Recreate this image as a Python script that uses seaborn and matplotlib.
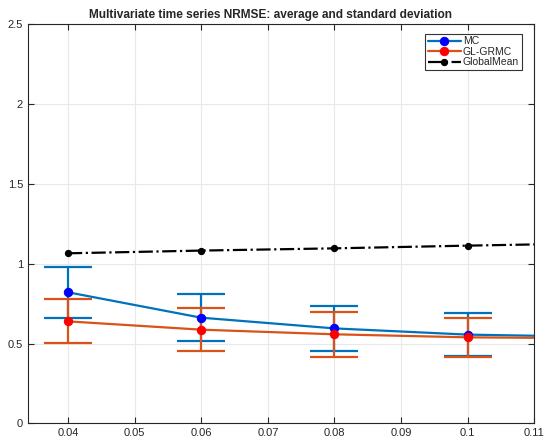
import matplotlib.pyplot as plt
import numpy as np
import pandas as pd
import seaborn as sns

# sampling rates (last point lies just beyond the axis limit)
rates = [0.04, 0.06, 0.08, 0.10, 0.12]
mc_mean = [0.821, 0.662, 0.595, 0.556, 0.542]
mc_std = [0.160, 0.148, 0.142, 0.133, 0.130]
gl_mean = [0.639, 0.587, 0.558, 0.539, 0.533]
gl_std = [0.137, 0.136, 0.141, 0.120, 0.120]
gm_mean = [1.065, 1.082, 1.096, 1.113, 1.128]

xticks = [0.04, 0.05, 0.06, 0.07, 0.08, 0.09, 0.1, 0.11]
xticklabels = ['0.04', '0.05', '0.06', '0.07', '0.08', '0.09', '0.1', '0.11']
yticks = [0, 0.5, 1, 1.5, 2, 2.5]
yticklabels = ['0', '0.5', '1', '1.5', '2', '2.5']

sns.set_style('white')
plt.rcParams['font.family'] = ['Liberation Sans', 'DejaVu Sans']

fig = plt.figure(figsize=(5.45, 4.37), dpi=100)
ax = fig.add_axes([0.0514, 0.031, 0.929, 0.914])

df = pd.DataFrame({'rate': rates, 'MC': mc_mean, 'GL-GRMC': gl_mean, 'GlobalMean': gm_mean})

blue = '#0072BD'
orange = '#D95319'

# error bars
ax.errorbar(rates, mc_mean, yerr=mc_std, fmt='none', ecolor=blue, elinewidth=1.6,
            capsize=17, capthick=1.6, zorder=2)
ax.errorbar(rates, gl_mean, yerr=gl_std, fmt='none', ecolor=orange, elinewidth=1.6,
            capsize=17, capthick=1.6, zorder=3)

sns.lineplot(data=df, x='rate', y='MC', ax=ax, color=blue, linewidth=1.6, marker='o',
             markersize=6, markerfacecolor='#0000FF', markeredgecolor='#0000FF',
             label='MC', zorder=4)
sns.lineplot(data=df, x='rate', y='GL-GRMC', ax=ax, color=orange, linewidth=1.6, marker='o',
             markersize=6, markerfacecolor='#FF0000', markeredgecolor='#FF0000',
             label='GL-GRMC', zorder=5)
sns.lineplot(data=df, x='rate', y='GlobalMean', ax=ax, color='black', linewidth=1.6,
             linestyle='-.', marker='o', markersize=4.5, markerfacecolor='black',
             markeredgecolor='black', label='GlobalMean', zorder=6)

ax.set_xlim(0.034, 0.11)
ax.set_ylim(0, 2.5)
ax.set_xticks(xticks)
ax.set_xticklabels(xticklabels)
ax.set_yticks(yticks)
ax.set_yticklabels(yticklabels)
ax.set_xlabel('')
ax.set_ylabel('')
ax.grid(True, color='#e8e8e8', linewidth=0.8)
ax.set_axisbelow(True)
ax.tick_params(direction='in', length=4, width=0.8, labelsize=8, colors='#262626',
               top=True, right=True, bottom=True, left=True)
for s in ax.spines.values():
    s.set_linewidth(0.8)
    s.set_color('#262626')

ax.set_title('Multivariate time series NRMSE: average and standard deviation',
             fontsize=8.6, fontweight='bold', pad=4, x=0.478)

leg = ax.legend(loc='upper right', bbox_to_anchor=(0.975, 0.976), fontsize=7.5, frameon=True,
                fancybox=False, edgecolor='black', handlelength=3.2, handletextpad=0.2,
                borderpad=0.25, labelspacing=0.05, borderaxespad=0)
leg.get_frame().set_linewidth(0.8)

plt.savefig('out.png', dpi=100)
